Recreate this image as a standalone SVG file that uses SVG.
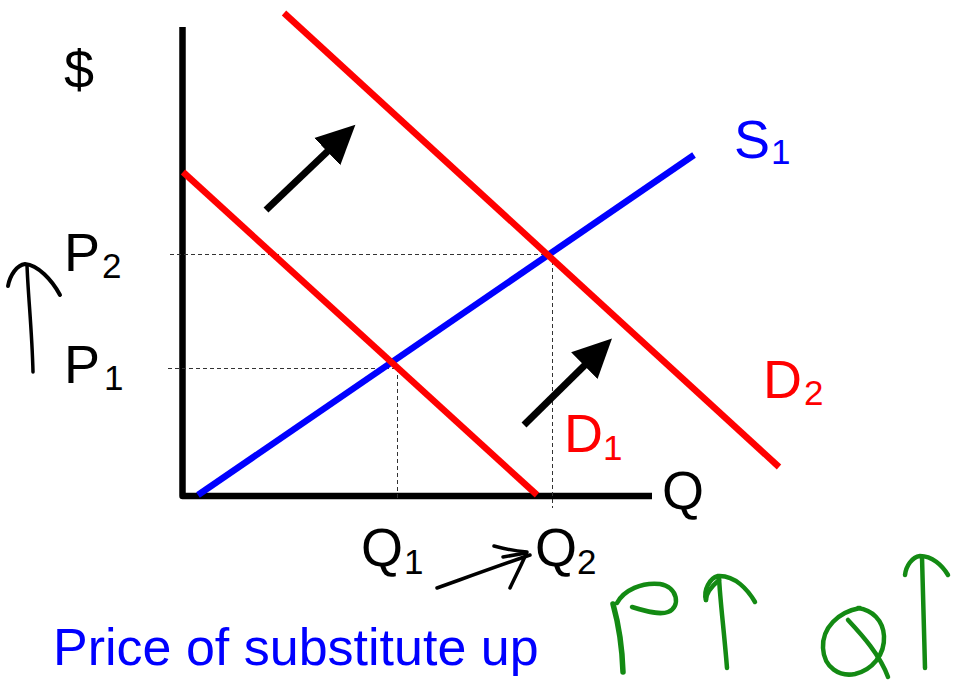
<svg xmlns="http://www.w3.org/2000/svg" width="961" height="688" viewBox="0 0 961 688">
<style>
text{font-family:"Liberation Sans",Arial,sans-serif}
.lbl{font-size:54px}
.sub{font-size:35px}
.big{font-size:52px}
.axis{stroke:#000;stroke-width:6.5;fill:none;stroke-linejoin:round}
.sup{stroke:#0000ff;stroke-width:6.5;fill:none}
.dem{stroke:#ff0000;stroke-width:6.5;fill:none}
.dash{stroke:#333;stroke-width:1;stroke-dasharray:4 3;fill:none}
.shift{stroke:#000;stroke-width:7;fill:none}
.hand{stroke:#000;stroke-width:3.5;fill:none;stroke-linecap:round;stroke-linejoin:round}
.green{stroke:#138a13;stroke-width:4.5;fill:none;stroke-linecap:round;stroke-linejoin:round}
</style>
<defs>
<marker id="ah" markerUnits="userSpaceOnUse" markerWidth="40" markerHeight="40" viewBox="0 -17 34 34" refX="2" refY="0" orient="auto">
<path d="M0,-16 L33,0 L0,16 z" fill="#000"/>
</marker>
</defs>
<rect width="961" height="688" fill="#fff"/>
<g id="axes">
<path class="axis" d="M182.5,27 L182.5,496 L652,496"/>
</g>
<g id="guides">
<path class="dash" d="M170,254.5 L552,254.5"/>
<path class="dash" d="M168,368.5 L397,368.5"/>
<path class="dash" d="M397.5,368 L397.5,498"/>
<path class="dash" d="M552.5,254 L552.5,508"/>
</g>
<g id="curves">
<path id="S1" class="sup" d="M198,495 L694,155"/>
<path id="D1" class="dem" d="M183,172 L537,495"/>
<path id="D2" class="dem" d="M284,13 L779,467"/>
</g>
<g id="connectors">
<path class="shift" d="M266,210 L329,150" marker-end="url(#ah)"/>
<path class="shift" d="M524,425 L586,364" marker-end="url(#ah)"/>
</g>
<g id="labels">
<text class="lbl" x="64" y="88">$</text>
<text class="lbl" x="64" y="271">P</text><text class="sub" x="102" y="278">2</text>
<text class="lbl" x="64" y="383">P</text><text class="sub" x="104" y="390">1</text>
<text class="lbl" x="734" y="158" fill="#0000ff">S</text><text class="sub" x="771" y="164" fill="#0000ff">1</text>
<text class="lbl" x="763" y="398" fill="#ff0000">D</text><text class="sub" x="804" y="405" fill="#ff0000">2</text>
<text class="lbl" x="564" y="452" fill="#ff0000">D</text><text class="sub" x="603" y="460" fill="#ff0000">1</text>
<text class="lbl" x="662" y="509">Q</text>
<text class="lbl" x="361" y="566">Q</text><text class="sub" x="404" y="574">1</text>
<text class="lbl" x="535" y="566">Q</text><text class="sub" x="577" y="574">2</text>
<text class="big" x="53" y="665" fill="#0000ff">Price of substitute up</text>
</g>
<g id="handwriting">
<path class="hand" d="M33,372 C32,330 28,295 27,265"/>
<path class="hand" d="M8,286 C10,275 17,265 25,264 C38,265 52,280 60,295" style="stroke-width:4"/>
<path class="hand" d="M437,588 C465,578 495,567 530,555"/>
<path class="hand" d="M494,546 C505,549 516,551 527,552 C521,566 515,577 510,588"/>
<path class="hand" d="M503,557 L526,553"/>
</g>
<g id="green-notes">
<path class="green" d="M623,672 C622,640 618,622 613,604" style="stroke-width:5.5"/>
<path class="green" d="M617,603 C624,590 642,582 660,584 C678,587 681,607 668,612 C660,615 648,612 632,607"/>
<path class="green" d="M727,668 C724,630 720,600 719,577"/>
<path class="green" d="M706,600 C703,590 710,578 718,576 C735,575 748,590 755,602"/>
<path class="green" d="M719,580 C712,586 706,594 706,600"/>
<path class="green" d="M860,608 C838,612 822,628 823,648 C824,668 840,677 855,674 C872,670 885,655 884,636 C883,620 872,610 858,608"/>
<path class="green" d="M848,620 C862,635 880,655 888,677"/>
<path class="green" d="M925,668 C924,630 923,590 922,557"/>
<path class="green" d="M905,575 C906,566 912,557 920,556 C932,556 942,565 948,575"/>
</g>
</svg>
